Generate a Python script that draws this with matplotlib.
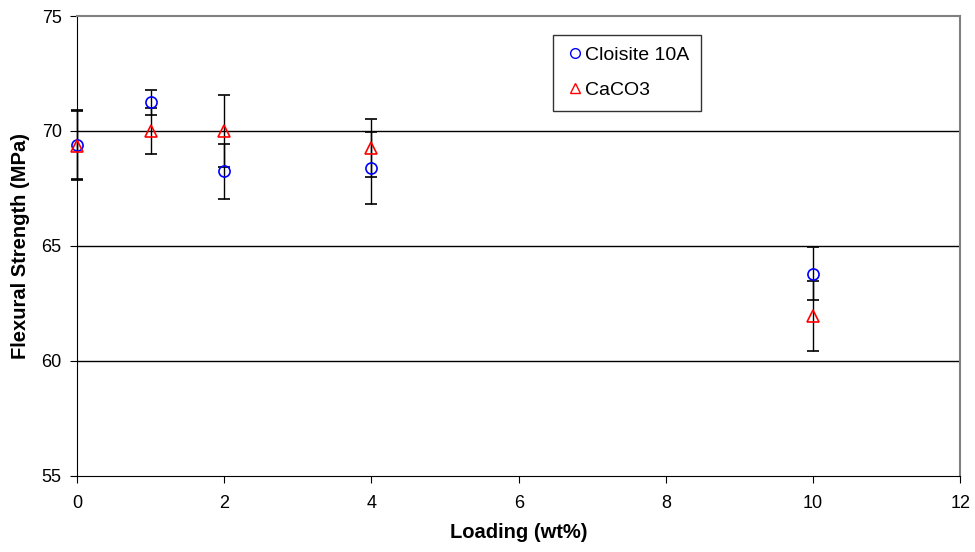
import matplotlib.pyplot as plt

plt.rcParams['font.family'] = ['Liberation Sans', 'DejaVu Sans']

# loading values (wt%)
loading = [0, 1, 2, 4, 10]

# Cloisite 10A
cl_mean = [69.4, 71.25, 68.25, 68.4, 63.8]
cl_err = [1.5, 0.55, 1.2, 1.57, 1.15]

# CaCO3
ca_mean = [69.35, 70.0, 70.0, 69.25, 61.95]
ca_err = [1.5, 1.0, 1.55, 1.27, 1.52]

fig = plt.figure(figsize=(9.75, 5.52), dpi=100)
ax = fig.add_axes([0.079, 0.138, 0.906, 0.833])

# horizontal gridlines
for g in [60, 65, 70]:
    ax.axhline(g, color='black', linewidth=1, zorder=0)

for mean, err, m, c, lab in [(cl_mean, cl_err, 'o', 'blue', 'Cloisite 10A'),
                             (ca_mean, ca_err, '^', 'red', 'CaCO3')]:
    eb = ax.errorbar(loading, mean, yerr=err, fmt=m, mfc='none', mec=c,
                     ms=8, mew=1.2, ecolor='black', elinewidth=1.0, capsize=4,
                     capthick=1.0, label=lab, zorder=3)
    for artist in eb.lines[0:1] + eb.lines[1] + eb.lines[2]:
        if artist is not None:
            artist.set_clip_on(False)

ax.set_xlim(0, 12)
ax.set_ylim(55, 75)
ax.set_xticks([0, 2, 4, 6, 8, 10, 12])
ax.set_yticks([55, 60, 65, 70, 75])
ax.tick_params(labelsize=13, direction='out', length=5)
ax.tick_params(axis='x', pad=9)
ax.tick_params(axis='y', pad=6)

ax.spines['top'].set_color('#808080')
ax.spines['right'].set_color('#808080')
ax.spines['top'].set_linewidth(1.5)
ax.spines['right'].set_linewidth(1.5)

ax.set_xlabel('Loading (wt%)', fontsize=14.5, fontweight='bold', labelpad=8)
ax.set_ylabel('Flexural Strength (MPa)', fontsize=14.5, fontweight='bold', labelpad=8)

# legend without error bars
h1 = plt.Line2D([], [], marker='o', ls='none', mfc='none', mec='blue', ms=7)
h2 = plt.Line2D([], [], marker='^', ls='none', mfc='none', mec='red', ms=7)
leg = ax.legend([h1, h2], ['Cloisite 10A', 'CaCO3'], loc='upper left',
                bbox_to_anchor=(0.539, 0.959), fontsize=14, frameon=True,
                fancybox=False, edgecolor='black', handletextpad=0.05,
                handlelength=1.0, borderpad=0.6, labelspacing=0.9,
                borderaxespad=0)
leg.get_frame().set_linewidth(1)

fig.savefig('out.png', dpi=100)
